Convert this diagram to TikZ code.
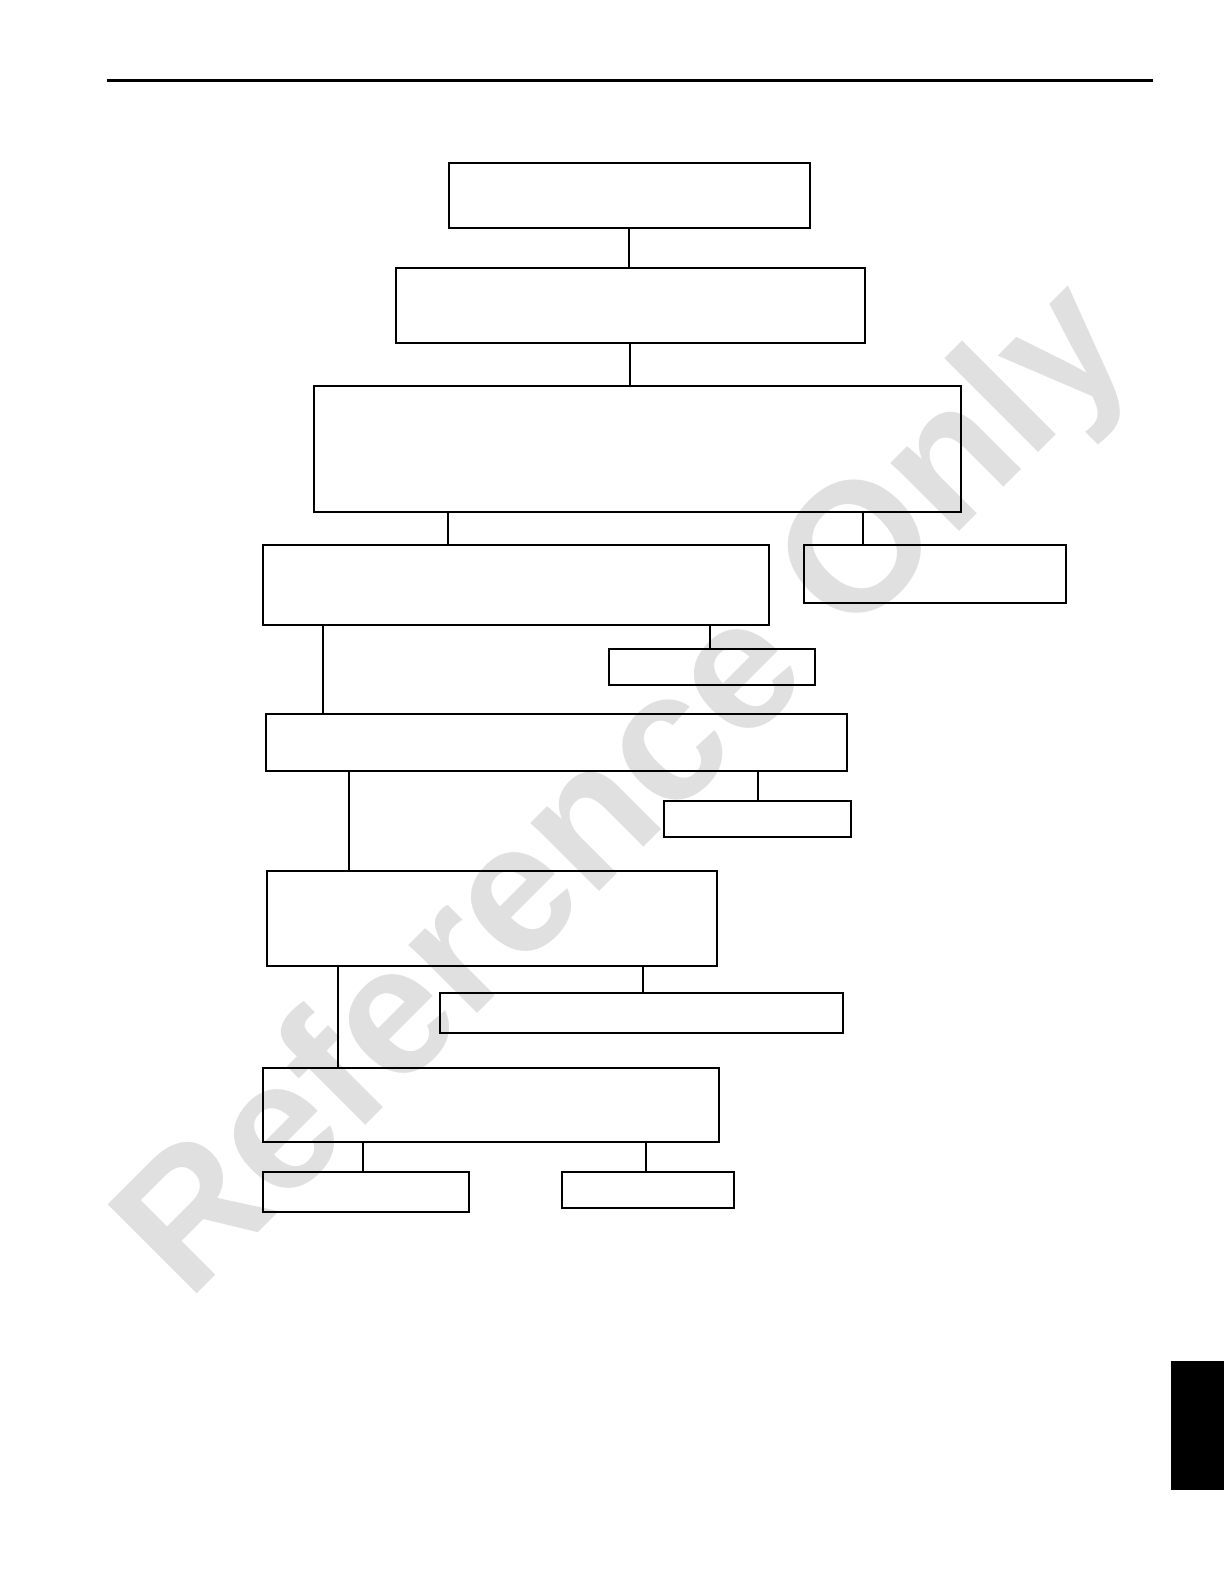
\documentclass[tikz,border=0pt]{standalone}
\usepackage{fontspec}
\setmainfont{Liberation Sans}
\begin{document}
\begin{tikzpicture}[x=1pt,y=-1pt,
  box/.style={draw=black, line width=2pt, inner sep=0pt, outer sep=0pt},
  link/.style={draw=black, line width=1.7pt},
  wmark/.style={text=black!12, font=\fontsize{183pt}{183pt}\selectfont\bfseries, inner sep=0pt, rotate=45, anchor=base west}]
\useasboundingbox[fill=white] (0,0) rectangle (1224,1584);
% watermark
\node[wmark] (wm) at (188,1303) {Reference Only};
% header rule and tab
\draw[line width=3pt] (107,81) coordinate (r1) -- (1153,81) coordinate (r2);
\fill[black] (1171,1361) rectangle (1224,1490);
% boxes
\node[box, minimum width=361pt, minimum height=65pt]  (b1)  at (629.5,195.5) {};
\node[box, minimum width=469pt, minimum height=75pt]  (b2)  at (630.5,305.5) {};
\node[box, minimum width=647pt, minimum height=126pt] (b3)  at (637.5,449) {};
\node[box, minimum width=506pt, minimum height=80pt]  (b4)  at (516,585) {};
\node[box, minimum width=262pt, minimum height=58pt]  (b5)  at (935,574) {};
\node[box, minimum width=206pt, minimum height=36pt]  (b6)  at (712,667) {};
\node[box, minimum width=581pt, minimum height=57pt]  (b7)  at (556.5,742.5) {};
\node[box, minimum width=187pt, minimum height=36pt]  (b8)  at (757.5,819) {};
\node[box, minimum width=450pt, minimum height=95pt]  (b9)  at (492,918.5) {};
\node[box, minimum width=403pt, minimum height=40pt]  (b10) at (641.5,1013) {};
\node[box, minimum width=456pt, minimum height=74pt]  (b11) at (491,1105) {};
\node[box, minimum width=206pt, minimum height=40pt]  (b12) at (366,1192) {};
\node[box, minimum width=172pt, minimum height=36pt]  (b13) at (648,1190) {};
% connectors
\draw[link] (b1.south -| 629,0) -- (b2.north -| 629,0);
\draw[link] (b2.south -| 630,0) -- (b3.north -| 630,0);
\draw[link] (b3.south -| 448,0) -- (b4.north -| 448,0);
\draw[link] (b3.south -| 863,0) -- (b5.north -| 863,0);
\draw[link] (b4.south -| 323,0) -- (b7.north -| 323,0);
\draw[link] (b4.south -| 710,0) -- (b6.north -| 710,0);
\draw[link] (b7.south -| 349,0) -- (b9.north -| 349,0);
\draw[link] (b7.south -| 758,0) -- (b8.north -| 758,0);
\draw[link] (b9.south -| 338,0) -- (b11.north -| 338,0);
\draw[link] (b9.south -| 643,0) -- (b10.north -| 643,0);
\draw[link] (b11.south -| 363,0) -- (b12.north -| 363,0);
\draw[link] (b11.south -| 646,0) -- (b13.north -| 646,0);
\end{tikzpicture}
\end{document}
